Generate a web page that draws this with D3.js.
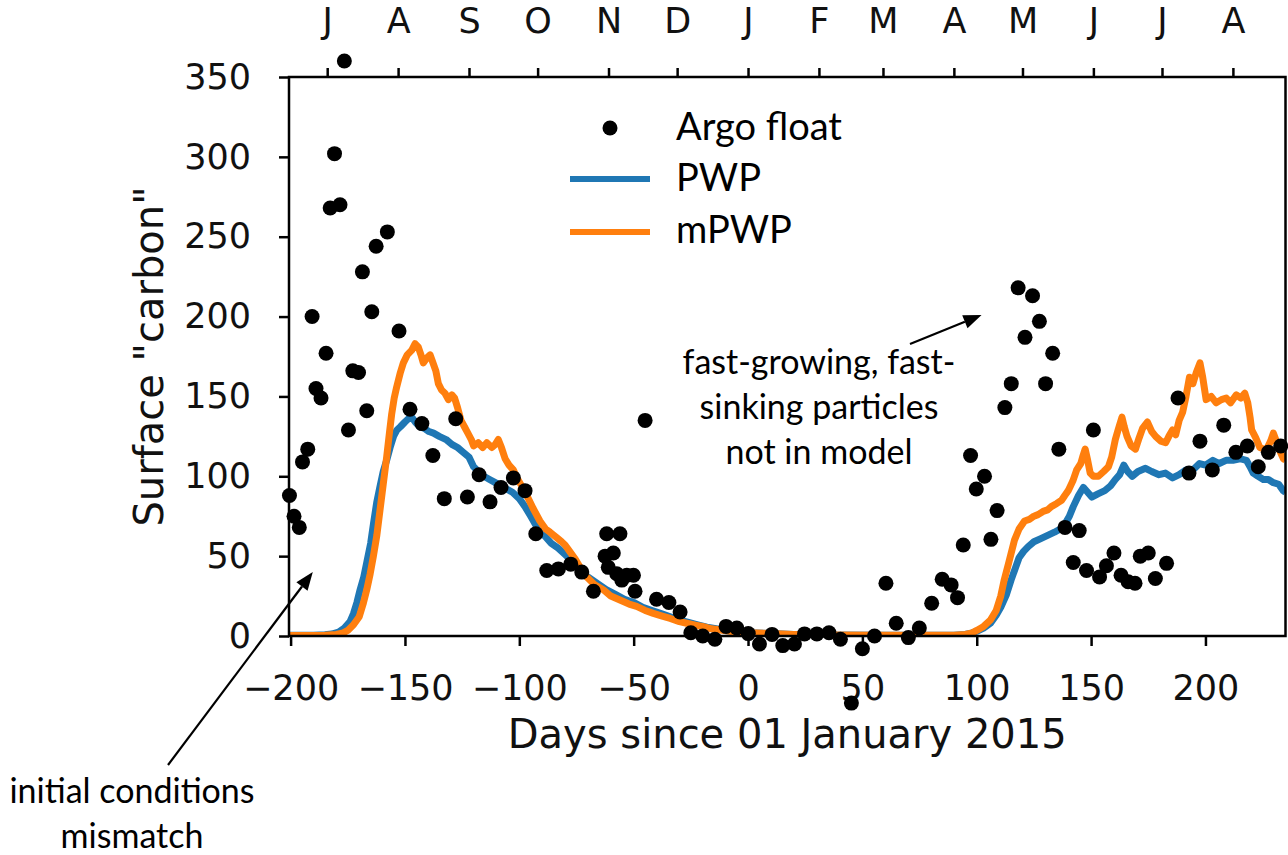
<!DOCTYPE html>
<html>
<head>
<meta charset="utf-8">
<script src="https://cdn.jsdelivr.net/npm/d3@7"></script>
<style>
  body { margin: 0; background: #fff; }
  svg { display: block; }
</style>
</head>
<body>
<div id="chart"></div>
<script>
// ---- data ----
// Argo float observations: day since 01 Jan 2015, surface carbon
var argoDay = [-200.5, -198.5, -196.2, -194.8, -192.5, -190.6, -188.9, -186.7, -184.5, -182.7,
  -180.8, -178.4, -176.5, -174.7, -172.8, -170.3, -168.6, -166.7, -164.5, -162.6,
  -157.7, -152.6, -147.8, -142.6, -137.8, -132.8, -127.8, -122.7, -117.6, -112.8,
  -108, -102.6, -97.5, -92.8, -88, -82.9, -77.5, -72.7, -67.6, -62.5,
  -61.8, -61.1, -58.9, -57.4, -56, -55.2, -53, -50.1, -49.4, -45,
  -40, -34.6, -29.7, -25, -19.8, -14.5, -9.6, -4.9, 0.1, 5,
  10.5, 15.2, 20.3, 24.7, 30.1, 35.4, 40.4, 45.2, 50, 55.3,
  60.3, 64.8, 70.1, 74.9, 80.3, 84.9, 88.8, 91.6, 94.1, 97.3,
  99.8, 103.4, 106.2, 108.9, 112.3, 115.1, 118.1, 121.1, 124.4, 127.4,
  130.1, 133.2, 135.9, 138.6, 142.2, 144.8, 148, 151, 153.7, 156.7,
  160, 163.1, 166.2, 169.2, 171.5, 175, 178.1, 183, 188, 192.8,
  197.6, 203, 208, 213.3, 218.3, 223.1, 227.5, 232.9];
var argoVal = [88, 75, 68, 109, 117, 200, 155, 149, 177, 268,
  302, 270, 360, 129, 166, 165, 228, 141, 203, 244,
  253, 191, 142, 133, 113, 86, 136, 87, 101, 84,
  93, 99, 91, 64, 41, 42, 45, 40, 28, 50,
  64, 43, 52, 39, 64, 35, 38, 38, 28, 135,
  23, 21, 15, 2, 0, -2, 6, 5, 1.5, -5,
  1, -6, -5, 1.3, 1.3, 2, -2, -42, -8, 0,
  33, 8, -1, 5, 20.5, 35.5, 32, 24, 57, 113,
  92, 100, 60.5, 78.5, 143, 158, 218, 187, 213, 197,
  158, 177, 117, 68, 46, 66, 41, 129, 37, 44,
  52, 38, 34, 33, 50, 52, 36, 45.5, 149, 102,
  122, 104, 132, 115, 119, 106, 115, 119];

// PWP model
var pwpDay = [-201, -190, -185, -182, -179, -176.5, -174, -172.5, -171, -169.6,
  -168, -166.7, -165, -163.8, -162.3, -161, -159.5, -158, -156.5, -155,
  -153.5, -152, -150, -148.5, -147, -145.5, -143.5, -141.5, -139.5, -137.5,
  -135, -132, -129.5, -127, -124.5, -122, -120, -118, -115.5, -113,
  -110.5, -108, -105.5, -103, -100, -97.5, -95, -93, -91, -88.5,
  -86, -83, -80, -77, -74, -71, -68, -65, -62, -58,
  -54, -50, -46, -42, -38, -34, -30, -26, -22, -18,
  -14, -10, -5, 0, 10, 20, 35, 60, 90, 95,
  98, 100, 103, 106, 108.5, 110.5, 113, 115, 117, 118.5,
  120.5, 122.5, 125, 128, 131, 134, 136.5, 138.5, 140.5, 142.2,
  144.5, 146.6, 148.5, 150.3, 153, 156, 158.5, 160.6, 162.5, 164.3,
  166, 168, 170.5, 173.8, 176.5, 179.7, 182.5, 185.6, 188.5, 191.5,
  194.5, 197.4, 200, 203.2, 206, 209, 212, 215, 217.9, 219.5,
  220.9, 223, 225.3, 227.5, 229.7, 232, 234, 235];
var pwpVal = [0.5, 0.5, 0.8, 1.2, 2.5, 5, 9, 14, 21, 29,
  37, 46, 58, 70, 84, 93, 103, 110, 118, 125,
  129, 131, 134, 136, 137, 134, 131, 130, 128, 127,
  125, 123, 120, 118, 115, 112, 106, 103, 100, 98,
  96, 94, 92, 90, 86, 81, 75, 70, 66, 62,
  58, 55, 51, 47, 42, 38, 35, 32, 29, 26,
  23, 21, 18, 16, 14, 12, 10, 8.5, 7, 5.5,
  4.5, 3.5, 2.5, 2, 1.5, 1, 0.7, 0.5, 0.5, 1,
  2, 3, 5, 8, 13, 18, 26, 35, 43, 49,
  53, 56, 59, 61, 63, 65, 67, 70, 75, 81,
  88, 93, 90, 87, 89, 91, 94, 98, 101, 107,
  103, 100, 103, 105, 103, 101, 102, 99, 101, 104,
  104, 108, 107, 110, 108, 110, 110, 111, 110, 106,
  102, 100, 98, 98, 96, 95, 91, 90];

// mPWP model
var mpwpDay = [-201, -190, -185, -180, -177, -175, -172.5, -170, -168.3, -166.7,
  -165.2, -163.8, -162.3, -160.9, -159.5, -158, -156.8, -155.8, -154.7, -153.6,
  -152, -150.7, -149, -147, -145.6, -144.2, -143, -142, -140.5, -139,
  -138, -136.5, -135.4, -134, -132.5, -131, -129.5, -128.3, -127, -125.5,
  -124, -122.5, -121, -120, -118, -116, -114.2, -112, -110.5, -109.2,
  -107.8, -106.2, -104.5, -102.6, -101, -99, -96.7, -94, -91, -88.5,
  -86.6, -84, -81.5, -80, -78, -75.5, -73.4, -70.5, -67, -63.3,
  -60, -56, -52, -48.7, -45, -41.4, -37.5, -34, -30, -26.8,
  -23, -19.5, -16, -12, -8, -4.9, 0, 10, 20, 35,
  60, 90, 95, 98, 100, 103, 106, 108.5, 110.5, 112,
  114, 116.5, 118.5, 120.9, 123, 125, 126.8, 129, 131, 132.6,
  135, 137.1, 138.5, 140, 142, 143.7, 145.5, 146.5, 147.4, 148.5,
  149.6, 151, 153.2, 155.5, 157.6, 159, 160.6, 162, 163.5, 164.5,
  165.7, 167.5, 169.4, 171, 172.5, 174.6, 176.5, 178.2, 180.5, 182.6,
  184, 185.6, 187, 188.5, 190, 191.5, 193, 194.5, 196, 197.6,
  198.8, 200.3, 202.5, 204.7, 207, 209.1, 211, 213.5, 215.5, 217.2,
  218.5, 219.5, 220.2, 222, 223.8, 225.5, 226.8, 228.5, 229.7, 231,
  232.5, 234.1, 235];
var mpwpVal = [0.3, 0.3, 0.5, 1, 2, 3.5, 7, 12, 20, 29,
  39, 50, 63, 79, 95, 112, 127, 139, 149, 156,
  165, 171, 176, 179, 183, 181, 176, 171, 174, 176,
  172, 166, 158, 154, 152, 148, 151, 149, 143, 135,
  131, 127, 123, 119, 121, 118, 121, 118, 120, 123,
  118, 111, 107, 104, 99, 94, 88, 80, 72, 67,
  65, 62, 59, 57, 53, 48, 43, 37, 32, 29,
  25, 22.5, 20, 18.5, 16, 14.2, 12.5, 11, 9, 8,
  6.8, 5.8, 4.5, 3.8, 3, 2.7, 2, 1.5, 1, 0.6,
  0.5, 0.5, 1, 2, 3.5, 6, 10, 16, 25, 35,
  46, 60, 67, 72, 73, 75, 76, 78, 79, 81,
  83, 85, 88, 91, 97, 104, 108, 113, 117, 110,
  102, 100, 100, 103, 106, 112, 123, 130, 137, 131,
  125, 119, 117, 124, 130, 134, 128, 125, 122, 121,
  125, 129, 126, 135, 140, 150, 162, 158, 165, 171,
  162, 148, 150, 146, 148, 149, 146, 151, 149, 152,
  146, 137, 129, 124, 118, 117, 117, 122, 127, 122,
  116, 111, 110];

// tick labels
var xTicks = [-200, -150, -100, -50, 0, 50, 100, 150, 200];
var yTicks = [0, 50, 100, 150, 200, 250, 300, 350];
var monthDays = [-184, -153, -122, -92, -61, -31, 0, 31, 59, 90, 120, 151, 181, 212];
var monthLabels = ["J", "A", "S", "O", "N", "D", "J", "F", "M", "A", "M", "J", "J", "A"];

// ---- layout ----
var width = 1288, height = 855;
var plotL = 289, plotR = 1285.5, plotT = 77, plotB = 636;
var blue = "#1f77b4", orange = "#ff7f0e";
var axisFont = "'DejaVu Sans', sans-serif";
var noteFont = "Lato, 'Open Sans', sans-serif";

var svg = d3.select("#chart")
  .append("svg")
  .attr("width", width)
  .attr("height", height);

var x = d3.scaleLinear().domain([-200.7, 235]).range([plotL, plotR]);
var y = d3.scaleLinear().domain([0, 350]).range([plotB, plotT]);

svg.append("clipPath").attr("id", "plot-clip")
  .append("rect")
  .attr("x", plotL).attr("y", plotT)
  .attr("width", plotR - plotL).attr("height", plotB - plotT);

// model lines
function series(days, vals) {
  return days.map(function(d, i) { return [d, vals[i]]; });
}
var line = d3.line()
  .x(function(d) { return x(d[0]); })
  .y(function(d) { return y(d[1]); });

var lines = svg.append("g").attr("clip-path", "url(#plot-clip)");
lines.append("path")
  .datum(series(pwpDay, pwpVal))
  .attr("d", line)
  .attr("fill", "none")
  .attr("stroke", blue)
  .attr("stroke-width", 7)
  .attr("stroke-linejoin", "round");
lines.append("path")
  .datum(series(mpwpDay, mpwpVal))
  .attr("d", line)
  .attr("fill", "none")
  .attr("stroke", orange)
  .attr("stroke-width", 7)
  .attr("stroke-linejoin", "round");

// axes
var yAxis = d3.axisLeft(y).tickValues(yTicks).tickSize(10).tickSizeOuter(0).tickPadding(28);
var xAxis = d3.axisBottom(x).tickValues(xTicks).tickSize(10).tickSizeOuter(0);
var topAxis = d3.axisTop(x).tickValues(monthDays).tickSize(9).tickSizeOuter(0)
  .tickFormat(function(d, i) { return monthLabels[i]; });

function styleAxis(g, size) {
  g.select(".domain").remove();
  g.selectAll(".tick line").attr("stroke", "#000").attr("stroke-width", 2.5);
  g.selectAll(".tick text")
    .attr("fill", "#111")
    .style("font-family", axisFont)
    .style("font-size", size + "px");
}

svg.append("g")
  .attr("transform", "translate(" + plotL + ",0)")
  .call(yAxis)
  .call(styleAxis, 35);

svg.append("g")
  .attr("transform", "translate(0," + plotB + ")")
  .call(xAxis)
  .call(styleAxis, 35)
  .selectAll(".tick text").attr("dy", null).attr("y", 64);

svg.append("g")
  .attr("transform", "translate(0," + plotT + ")")
  .call(topAxis)
  .call(styleAxis, 35)
  .selectAll(".tick text").attr("dy", null).attr("y", -44);

// frame
svg.append("rect")
  .attr("x", plotL).attr("y", plotT)
  .attr("width", plotR - plotL).attr("height", plotB - plotT)
  .attr("fill", "none")
  .attr("stroke", "#000")
  .attr("stroke-width", 2.5);

// Argo dots (not clipped, as in the figure)
svg.append("g").selectAll("circle")
  .data(series(argoDay, argoVal))
  .enter()
    .append("circle")
    .attr("cx", function(d) { return x(d[0]); })
    .attr("cy", function(d) { return y(d[1]); })
    .attr("r", 7.5)
    .attr("fill", "#000");

// axis titles
svg.append("text")
  .attr("x", (plotL + plotR) / 2)
  .attr("y", 748)
  .attr("text-anchor", "middle")
  .style("font-family", axisFont)
  .style("font-size", "40px")
  .attr("fill", "#111")
  .text("Days since 01 January 2015");

svg.append("text")
  .attr("transform", "translate(163," + (plotT + plotB) / 2 + ") rotate(-90)")
  .attr("text-anchor", "middle")
  .style("font-family", axisFont)
  .style("font-size", "40px")
  .attr("fill", "#111")
  .text("Surface \"carbon\"");

// legend
var legend = svg.append("g");
legend.append("circle").attr("cx", 610).attr("cy", 128).attr("r", 7.5).attr("fill", "#000");
legend.append("line").attr("x1", 570).attr("x2", 650).attr("y1", 179).attr("y2", 179)
  .attr("stroke", blue).attr("stroke-width", 6);
legend.append("line").attr("x1", 570).attr("x2", 650).attr("y1", 232).attr("y2", 232)
  .attr("stroke", orange).attr("stroke-width", 6);
[["Argo float", 140], ["PWP", 191], ["mPWP", 243]].forEach(function(r) {
  legend.append("text")
    .attr("x", 676).attr("y", r[1])
    .style("font-family", noteFont)
    .style("font-size", "38px")
    .attr("fill", "#000")
    .text(r[0]);
});

// annotations
function note(rows, cx, y0, step) {
  rows.forEach(function(t, i) {
    svg.append("text")
      .attr("x", cx).attr("y", y0 + i * step)
      .attr("text-anchor", "middle")
      .style("font-family", noteFont)
      .style("font-size", "34px")
      .attr("fill", "#000")
      .text(t);
  });
}
note(["fast-growing, fast-", "sinking particles", "not in model"], 819, 374, 45);
note(["initial conditions", "mismatch"], 132, 803, 45);

function arrow(x1, y1, x2, y2) {
  var a = Math.atan2(y2 - y1, x2 - x1), len = 18, half = 7;
  var bx = x2 - len * Math.cos(a), by = y2 - len * Math.sin(a);
  svg.append("line")
    .attr("x1", x1).attr("y1", y1).attr("x2", bx).attr("y2", by)
    .attr("stroke", "#000").attr("stroke-width", 2.2);
  svg.append("path")
    .attr("d", "M" + x2 + "," + y2 +
      "L" + (bx + half * Math.sin(a)) + "," + (by - half * Math.cos(a)) +
      "L" + (bx - half * Math.sin(a)) + "," + (by + half * Math.cos(a)) + "Z")
    .attr("fill", "#000");
}
arrow(168, 765, x(-190.3), y(40));
arrow(910, 344, x(102.1), y(201));
</script>
</body>
</html>
